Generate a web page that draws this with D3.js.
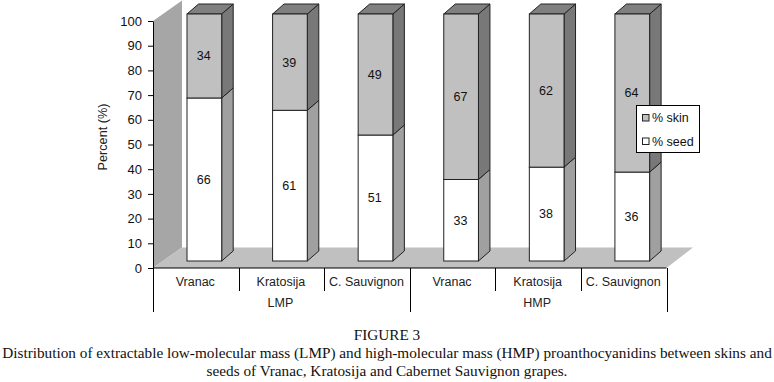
<!DOCTYPE html>
<html><head><meta charset="utf-8">
<script src="https://cdn.jsdelivr.net/npm/d3@7"></script>
<style>html,body{margin:0;padding:0;background:#fff}svg{display:block}</style>
</head><body><svg id="c" width="774" height="382"></svg>
<script>
const categories = ["Vranac","Kratosija","C. Sauvignon","Vranac","Kratosija","C. Sauvignon"];
const groups = ["LMP","HMP"];
const seedValues = [66,61,51,33,38,36];
const skinValues = [34,39,49,67,62,64];
const yTicks = [0,10,20,30,40,50,60,70,80,90,100];
const legendLabels = ["% skin","% seed"];
const captionLines = ["FIGURE 3",
 "Distribution of extractable low-molecular mass (LMP) and high-molecular mass (HMP) proanthocyanidins between skins and",
 "seeds of Vranac, Kratosija and Cabernet Sauvignon grapes."];

const svg = d3.select("#c");
const sans = "'Liberation Sans', Arial, sans-serif";
const x = d3.scaleBand().domain(d3.range(categories.length)).range([153,666.5]);
const y = d3.scaleLinear().domain([0,100]).range([268,21]);
const wallDx = 29, wallDy = 20.5, floorRight = 693;
const barOff = 34, barW = 34.7, barLift = 7, dDx = 11.5, dDy = 10;
const line = "#222";

const poly = (pts, fill, stroke) => svg.append("polygon")
  .attr("points", pts.map(p=>p.join(",")).join(" "))
  .attr("fill", fill).attr("stroke", stroke||"none").attr("stroke-width", stroke?1:0);

// wall and floor
poly([[x.range()[0],y(0)],[x.range()[0],y(100)],[x.range()[0]+wallDx,y(100)-wallDy],[x.range()[0]+wallDx,y(0)-wallDy]],"#a6a6a6");
poly([[x.range()[0],y(0)],[x.range()[0]+wallDx,y(0)-wallDy],[floorRight,y(0)-wallDy],[x.range()[1],y(0)]],"#c0c0c0");

// bars
categories.forEach((c,i)=>{
  const l = x(i)+barOff, r = l+barW;
  const yb = y(0)-barLift, ym = y(seedValues[i])-barLift, yt = y(seedValues[i]+skinValues[i])-barLift;
  poly([[r,yb],[r,ym],[r+dDx,ym-dDy],[r+dDx,yb-dDy]],"#a0a0a0",line);
  poly([[r,ym],[r,yt],[r+dDx,yt-dDy],[r+dDx,ym-dDy]],"#787878",line);
  poly([[l,yt],[r,yt],[r+dDx,yt-dDy],[l+dDx,yt-dDy]],"#808080",line);
  svg.append("rect").attr("x",l).attr("y",ym).attr("width",barW).attr("height",yb-ym).attr("fill","#fff").attr("stroke",line);
  svg.append("rect").attr("x",l).attr("y",yt).attr("width",barW).attr("height",ym-yt).attr("fill","#c0c0c0").attr("stroke",line);
  [[seedValues[i],(yb+ym)/2],[skinValues[i],(ym+yt)/2]].forEach(([v,py])=>{
    svg.append("text").attr("x",(l+r)/2-0.7).attr("y",py).attr("dy","0.35em").attr("text-anchor","middle")
      .attr("font-family",sans).attr("font-size",12.5).attr("fill","#111").text(v);
  });
});

// y axis
const ax = svg.append("g").attr("transform",`translate(${x.range()[0]},0)`)
  .call(d3.axisLeft(y).tickValues(yTicks).tickSize(5).tickPadding(6).tickSizeOuter(0));
ax.selectAll("path,line").attr("stroke","#000");
ax.selectAll("text").attr("font-family",sans).attr("font-size",13).attr("fill","#111");
svg.append("text").attr("transform","translate(107,137) rotate(-90)").attr("text-anchor","middle")
  .attr("font-family",sans).attr("font-size",12.7).attr("fill","#222").text("Percent (%)");

// category axis
const gy = y(0);
svg.append("line").attr("x1",x.range()[0]).attr("x2",x.range()[1]).attr("y1",gy).attr("y2",gy).attr("stroke","#000");
d3.range(categories.length+1).forEach(i=>{
  const px = Math.round(x.range()[0]+i*x.step());
  const end = i%3===0 ? 312 : 291;
  svg.append("line").attr("x1",px+.5).attr("x2",px+.5).attr("y1",gy).attr("y2",end).attr("stroke","#000");
});
categories.forEach((c,i)=>svg.append("text").attr("x",x(i)+x.step()/2-0.5).attr("y",286).attr("text-anchor","middle")
  .attr("font-family",sans).attr("font-size",12.5).attr("fill","#222").text(c));
groups.forEach((g,i)=>svg.append("text").attr("x",x(i*3)+1.5*x.step()-1).attr("y",307).attr("text-anchor","middle")
  .attr("font-family",sans).attr("font-size",12.5).attr("fill","#222").text(g));

// legend
svg.append("rect").attr("x",636.5).attr("y",105.5).attr("width",63).attr("height",47).attr("fill","#fff").attr("stroke","#000");
legendLabels.forEach((t,i)=>{
  const ly = 114+i*23.5;
  svg.append("rect").attr("x",642.5).attr("y",ly+.5).attr("width",6.5).attr("height",6.5)
    .attr("fill",i?"#fff":"#c0c0c0").attr("stroke","#222");
  svg.append("text").attr("x",652).attr("y",ly+8).attr("font-family",sans).attr("font-size",12.5).attr("fill","#111").text(t);
});

// caption
[340,358,376].forEach((py,i)=>svg.append("text").attr("x",387).attr("y",py).attr("text-anchor","middle")
  .attr("font-family","'Liberation Serif', 'Times New Roman', serif").attr("font-size",15.25).attr("fill","#111").text(captionLines[i]));
</script></body></html>
